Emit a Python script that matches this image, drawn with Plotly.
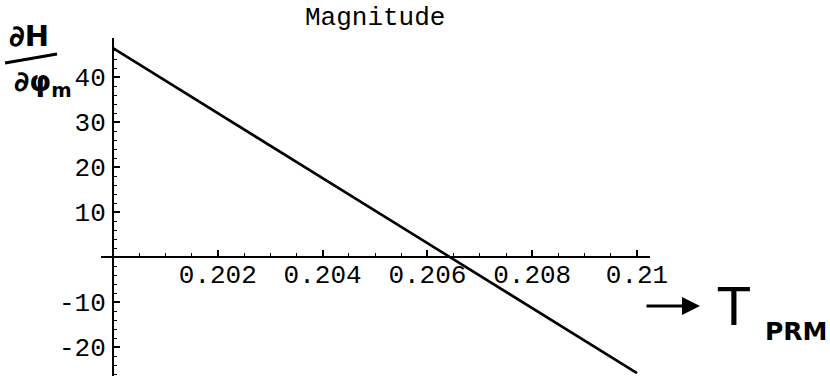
import numpy as np
import plotly.graph_objects as go

# Sensitivity of H with respect to phi_m versus T_PRM (straight-line response)
t_prm = [0.2, 0.21]
dh_dphi = [46.4, -25.8]

x_tick_vals = [0.202, 0.204, 0.206, 0.208, 0.21]
x_tick_text = ["0.202", "0.204", "0.206", "0.208", "0.21"]
y_tick_vals = [-20, -10, 10, 20, 30, 40]
y_tick_text = ["-20", "-10", "10", "20", "30", "40"]

W, H = 830, 376
MONO = "Courier New, Courier, Nimbus Mono PS, FreeMono, Liberation Mono, monospace"
FS = 26

# pixel frame of the axes
x0_px, x_scale = 113, 52400.0      # px at T=0.2, px per unit T
y0_px, y_scale = 257, 4.5          # px at value 0, px per unit value
x_left_px, x_right_px = 101, 650
y_top_px = 38

def px_to_t(px):
    return 0.2 + (px - x0_px) / x_scale

def py_to_v(py):
    return (y0_px - py) / y_scale

fig = go.Figure()
fig.add_trace(go.Scatter(
    x=t_prm, y=dh_dphi, mode="lines",
    line=dict(color="black", width=2.6),
    hoverinfo="skip", showlegend=False,
))

x_minor = np.round(np.arange(0.2, 0.2101, 0.0005), 5).tolist()
y_minor = list(range(-26, 48, 2))

fig.update_layout(
    width=W, height=H,
    margin=dict(l=0, r=0, t=0, b=0, autoexpand=False),
    paper_bgcolor="white", plot_bgcolor="white",
    xaxis=dict(
        domain=[x_left_px / W, x_right_px / W],
        range=[px_to_t(x_left_px), px_to_t(x_right_px)],
        anchor="free", position=(H - y0_px) / H, automargin=False,
        showgrid=False, zeroline=False,
        showline=True, linecolor="black", linewidth=2,
        tickmode="array", tickvals=x_tick_vals, ticktext=x_tick_text,
        ticks="inside", ticklen=6, tickwidth=1.5, tickcolor="black",
        ticklabelstandoff=-6,
        minor=dict(tickvals=x_minor, ticks="inside", ticklen=3,
                   tickwidth=1.2, tickcolor="black", showgrid=False),
        tickfont=dict(family=MONO, size=FS, color="black"),
    ),
    yaxis=dict(
        domain=[0, (H - y_top_px) / H],
        range=[py_to_v(H), py_to_v(y_top_px)],
        anchor="free", position=x0_px / W, automargin=False,
        showgrid=False, zeroline=False,
        showline=True, linecolor="black", linewidth=2,
        tickmode="array", tickvals=y_tick_vals, ticktext=y_tick_text,
        ticks="inside", ticklen=6, tickwidth=1.5, tickcolor="black",
        ticklabelstandoff=1,
        minor=dict(tickvals=y_minor, ticks="inside", ticklen=3,
                   tickwidth=1.2, tickcolor="black", showgrid=False),
        tickfont=dict(family=MONO, size=FS, color="black"),
    ),
)

# title
fig.add_annotation(
    text="Magnitude", xref="paper", yref="paper",
    x=303 / W, y=1 - 18 / H, xanchor="left", yanchor="middle",
    showarrow=False, font=dict(family=MONO, size=FS, color="black"),
)

HAND = "DejaVu Sans, Noto Sans, sans-serif"
# y-axis label: dH / dphi_m
fig.add_annotation(
    text="<b>∂H</b>", xref="paper", yref="paper",
    x=7 / W, y=1 - 36 / H, xanchor="left", yanchor="middle",
    showarrow=False, font=dict(family=HAND, size=29, color="black"),
)
fig.add_shape(
    type="line", xref="paper", yref="paper",
    x0=5 / W, y0=1 - 63 / H, x1=57 / W, y1=1 - 54 / H,
    line=dict(color="black", width=3),
)
fig.add_annotation(
    text="<b>∂φ<sub>m</sub></b>", xref="paper", yref="paper",
    x=12 / W, y=1 - 84 / H, xanchor="left", yanchor="middle",
    showarrow=False, font=dict(family=HAND, size=28, color="black"),
)

# x-axis label: -> T_PRM
fig.add_annotation(
    x=700 / W, y=1 - 306 / H, ax=-55, ay=0,
    xref="paper", yref="paper", axref="pixel", ayref="pixel",
    text="", showarrow=True, arrowhead=2, arrowsize=1.2,
    arrowwidth=3, arrowcolor="black",
)
fig.add_annotation(
    text="T", xref="paper", yref="paper",
    x=715 / W, y=1 - 307 / H, xanchor="left", yanchor="middle",
    showarrow=False, font=dict(family=HAND, size=52, color="black"),
)
fig.add_annotation(
    text="<b>PRM</b>", xref="paper", yref="paper",
    x=763 / W, y=1 - 331 / H, xanchor="left", yanchor="middle",
    showarrow=False, font=dict(family=HAND, size=25, color="black"),
)

fig.write_html("out.html")
